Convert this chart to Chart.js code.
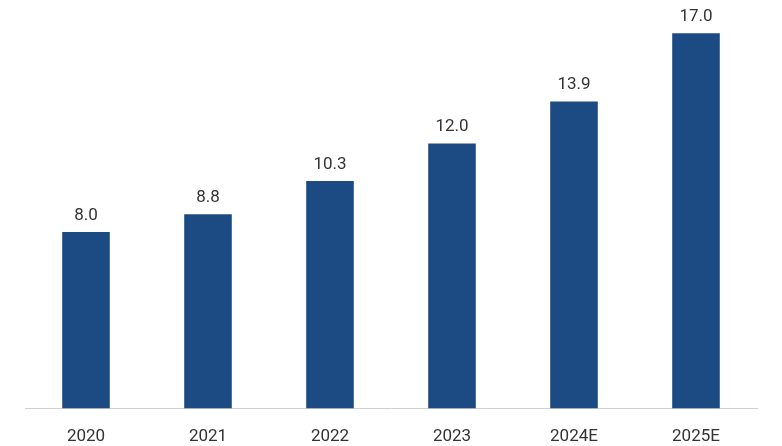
<!DOCTYPE html>
<html>
<head>
<meta charset="utf-8">
<script src="https://cdn.jsdelivr.net/npm/chart.js@4"></script>
<style>
  html, body { margin: 0; padding: 0; background: #fff; }
  #wrap { width: 782px; height: 446px; }
</style>
</head>
<body>
<div id="wrap"><canvas id="myChart"></canvas></div>
<script>
const years = ['2020', '2021', '2022', '2023', '2024E', '2025E'];
const values = [8.0, 8.8, 10.3, 12.0, 13.9, 17.0];

// draws the value above each bar
const barLabels = {
    id: 'barLabels',
    afterDatasetsDraw(chart) {
        const c = chart.ctx;
        c.save();
        c.font = '17px Roboto';
        c.fillStyle = '#333333';
        c.textAlign = 'center';
        c.textBaseline = 'bottom';
        chart.getDatasetMeta(0).data.forEach((bar, i) => {
            c.fillText(values[i].toFixed(1), bar.x, bar.y - 8);
        });
        c.restore();
    }
};

const ctx = document.getElementById('myChart').getContext('2d');
const myChart = new Chart(ctx, {
    type: 'bar',
    data: {
        labels: years,
        datasets: [{
            data: values,
            backgroundColor: '#1C4A83',
            barPercentage: 0.39,
            categoryPercentage: 1
        }]
    },
    options: {
        responsive: true,
        maintainAspectRatio: false,
        animation: false,
        layout: { padding: { left: 25, right: 25, top: 0, bottom: -11 } },
        plugins: { legend: { display: false }, tooltip: { enabled: false } },
        scales: {
            y: { display: false, min: 0, max: 18.5 },
            x: {
                grid: { display: false },
                border: { color: '#d0d0d0', width: 1 },
                ticks: { color: '#333333', font: { family: 'Roboto', size: 17 }, padding: 10 }
            }
        }
    },
    plugins: [barLabels]
});
</script>
</body>
</html>
